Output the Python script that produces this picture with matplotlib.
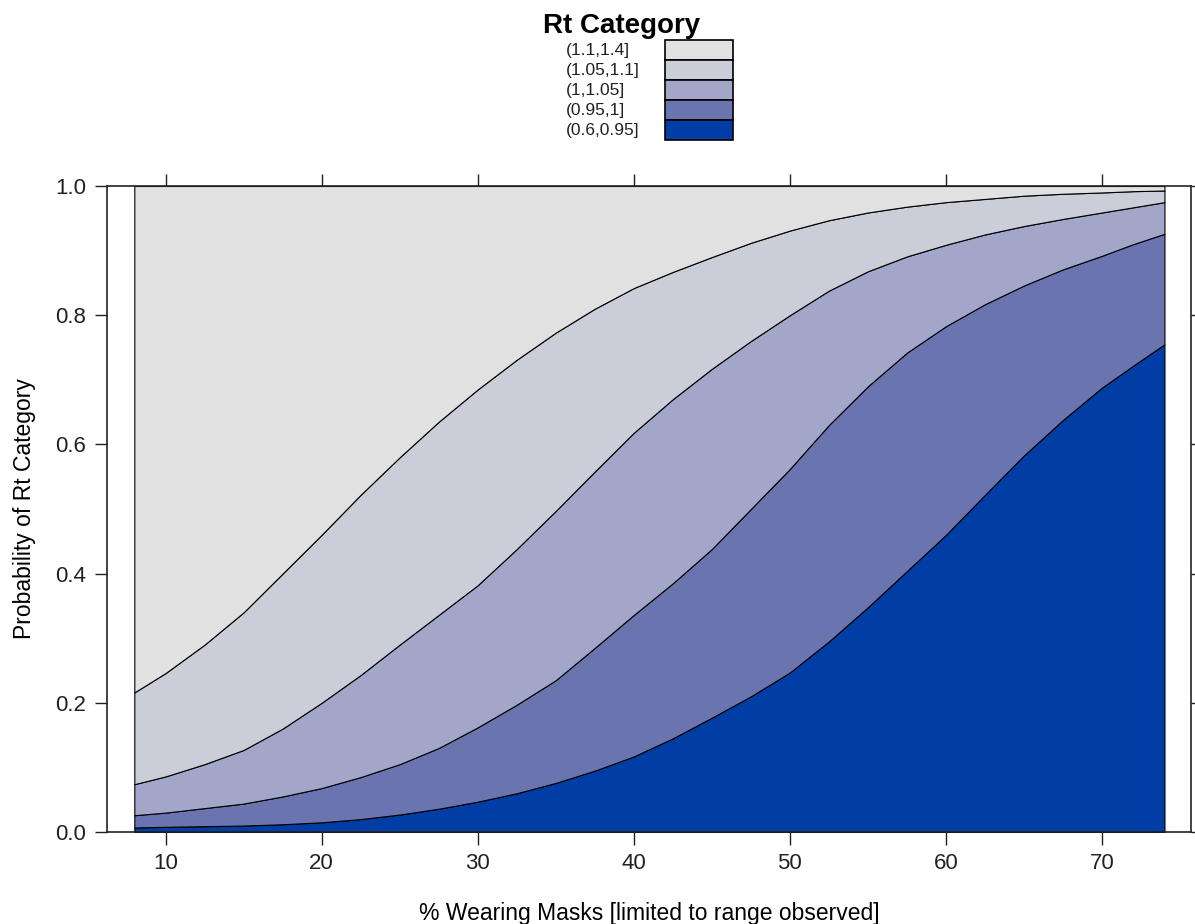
import matplotlib
matplotlib.use("Agg")
import matplotlib.pyplot as plt
from matplotlib.patches import Rectangle

plt.rcParams['font.family'] = ['Liberation Sans', 'DejaVu Sans']

# % wearing masks (observed range) and cumulative probabilities of Rt category
masks = [8, 10, 12.5, 15, 17.5, 20, 22.5, 25, 27.5, 30, 32.5, 35, 37.5, 40, 42.5,
         45, 47.5, 50, 52.5, 55, 57.5, 60, 62.5, 65, 67.5, 70, 72, 74]
cum_095 = [0.007, 0.008, 0.009, 0.010, 0.012, 0.015, 0.020, 0.027, 0.036, 0.047,
           0.060, 0.076, 0.095, 0.117, 0.145, 0.177, 0.210, 0.247, 0.295, 0.348,
           0.404, 0.460, 0.522, 0.583, 0.638, 0.688, 0.722, 0.755]
cum_1 = [0.026, 0.030, 0.037, 0.044, 0.055, 0.068, 0.085, 0.105, 0.130, 0.162,
         0.197, 0.235, 0.285, 0.336, 0.385, 0.438, 0.500, 0.562, 0.630, 0.690,
         0.742, 0.783, 0.817, 0.846, 0.871, 0.892, 0.910, 0.926]
cum_105 = [0.074, 0.086, 0.105, 0.127, 0.160, 0.200, 0.243, 0.290, 0.336, 0.382,
           0.438, 0.497, 0.558, 0.618, 0.670, 0.717, 0.760, 0.800, 0.838, 0.868,
           0.891, 0.909, 0.925, 0.938, 0.949, 0.959, 0.967, 0.975]
cum_11 = [0.216, 0.246, 0.290, 0.340, 0.400, 0.460, 0.522, 0.580, 0.635, 0.685,
          0.731, 0.773, 0.810, 0.842, 0.867, 0.890, 0.912, 0.931, 0.947, 0.959,
          0.968, 0.975, 0.980, 0.985, 0.988, 0.990, 0.992, 0.993]
cum_14 = [1.0] * len(masks)

categories = ['(0.6,0.95]', '(0.95,1]', '(1,1.05]', '(1.05,1.1]', '(1.1,1.4]']
cores = ['#003DA5', '#6A74AF', '#A2A6C8', '#CBCDD9', '#E1E1E1']

x_ticks = [10, 20, 30, 40, 50, 60, 70]
y_ticks = [0.0, 0.2, 0.4, 0.6, 0.8, 1.0]

W, H = 1195, 924
fig = plt.figure(figsize=(W / 100, H / 100), dpi=100)
ax = fig.add_axes([107 / W, 1 - 832 / H, (1191 - 107) / W, (832 - 186) / H])

camadas = [[0.0] * len(masks), cum_095, cum_1, cum_105, cum_11, cum_14]
for i in range(5):
    ax.fill_between(masks, camadas[i], camadas[i + 1], facecolor=cores[i],
                    edgecolor='black', linewidth=0.8)

ax.set_xlim(6.25, 75.7)
ax.set_ylim(0, 1)
ax.set_xticks(x_ticks)
ax.set_yticks(y_ticks)
ax.set_yticklabels([f'{v:.1f}' for v in y_ticks])
ax.tick_params(direction='out', length=9, width=1, top=True, right=True,
               labeltop=False, labelright=False, labelsize=16, colors='#222222', pad=6)
for s in ax.spines.values():
    s.set_linewidth(1.2)
    s.set_color('#222222')

ax.set_xlabel('% Wearing Masks [limited to range observed]', fontsize=16.5, labelpad=20)
ax.set_ylabel('Probability of Rt Category', fontsize=16.5, labelpad=14)

# legend key on top
fig.text(622 / W, 1 - 33 / H, 'Rt Category', fontsize=20, fontweight='bold',
         ha='center', va='baseline')
row_h = 20
for i, (cat, cor) in enumerate(zip(categories[::-1], cores[::-1])):
    top = 40 + i * row_h
    fig.patches.append(Rectangle((665 / W, 1 - (top + row_h) / H), 68 / W, row_h / H,
                                 transform=fig.transFigure, facecolor=cor,
                                 edgecolor='black', linewidth=1.2))
    fig.text(566 / W, 1 - (top + row_h / 2) / H, cat, fontsize=12.5,
             ha='left', va='center', color='#222222')

plt.savefig('out.png', dpi=100)
